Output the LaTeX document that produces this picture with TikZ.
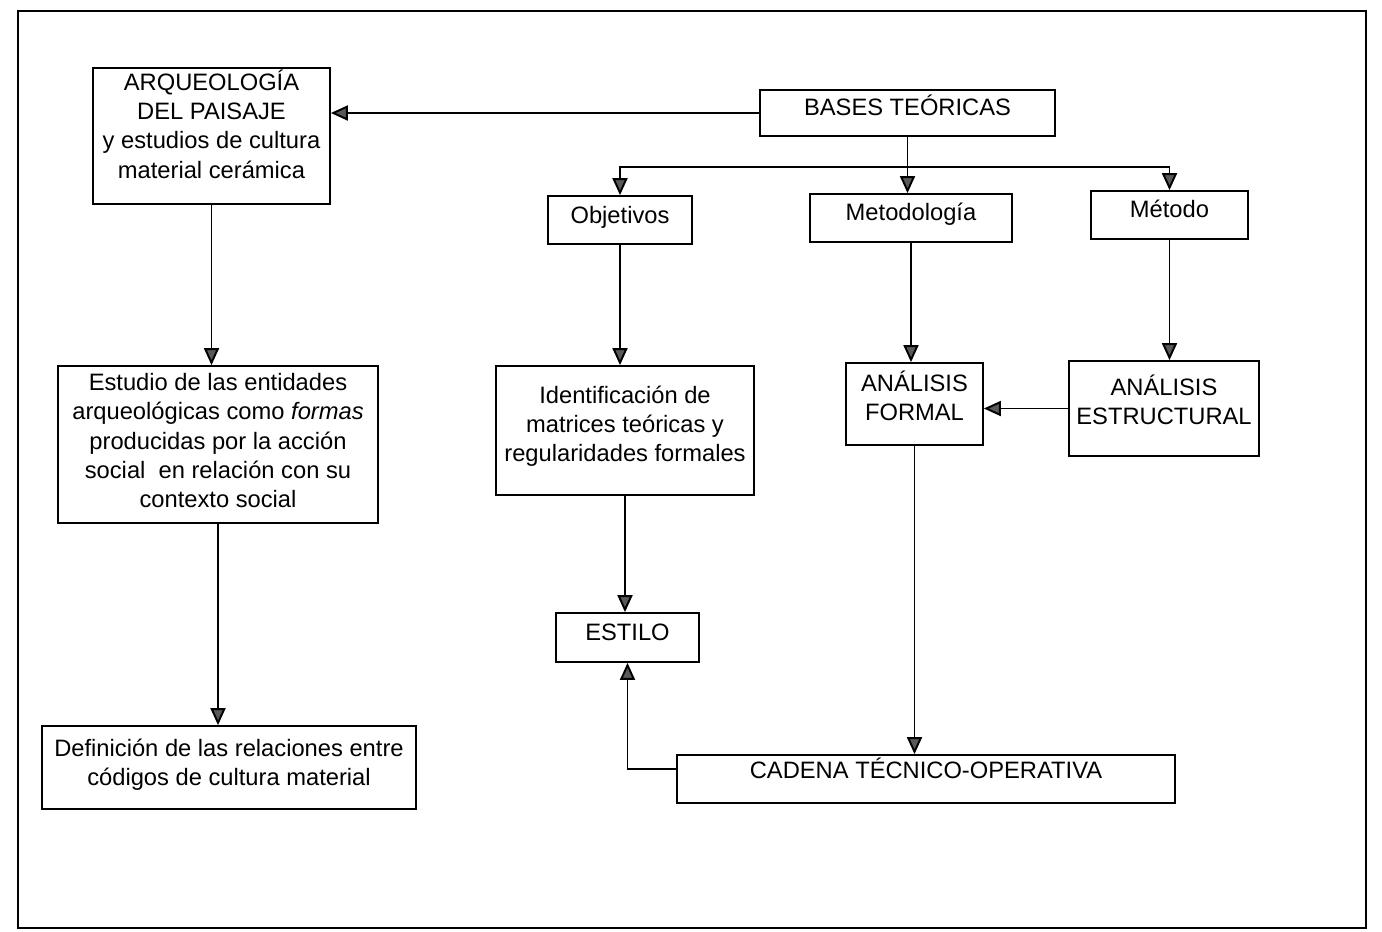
\documentclass[tikz,border=0pt]{standalone}
\usepackage{fontspec}
\setmainfont{Liberation Sans}
\usetikzlibrary{arrows.meta}
\begin{document}
\begin{tikzpicture}[x=0.02cm,y=-0.02cm,
        caja/.style={draw,line width=1pt,inner sep=0pt,align=center,
            font=\fontsize{13.5}{16.6}\selectfont},
        flecha/.style={line width=1.1pt,
            -{Triangle[width=0.3cm,length=0.34cm,fill=black!65]}}]
    \useasboundingbox (0,0) rectangle (1382,931);
    \draw[line width=1pt] (18,11) rectangle (1366,928);
    % columna izquierda
    \node[caja,minimum width=237*0.02cm,minimum height=136*0.02cm,text depth=0.48cm] (arq) at (211.5,136)
        {ARQUEOLOG\'IA\\DEL PAISAJE\\y estudios de cultura\\material cer\'amica};
    \node[caja,minimum width=320*0.02cm,minimum height=157*0.02cm,text depth=0.16cm] (estudio) at (218,444.5)
        {Estudio de las entidades\\arqueol\'ogicas como \textit{formas}\\producidas por la acci\'on\\social\ \ en relaci\'on con su\\contexto social};
    \node[caja,minimum width=374*0.02cm,minimum height=83*0.02cm,text depth=0.22cm] (definicion) at (229,767.5)
        {Definici\'on de las relaciones entre\\c\'odigos de cultura material};
    % bases y ramas
    \node[caja,minimum width=295*0.02cm,minimum height=46*0.02cm,text depth=0.32cm] (bases) at (907.5,113)
        {BASES TE\'ORICAS};
    \node[caja,minimum width=144*0.02cm,minimum height=48*0.02cm,text depth=0.22cm] (obj) at (620,220)
        {Objetivos};
    \node[caja,minimum width=202*0.02cm,minimum height=48*0.02cm,text depth=0.26cm] (metodologia) at (911,218)
        {Metodolog\'ia};
    \node[caja,minimum width=157*0.02cm,minimum height=48*0.02cm,text depth=0.24cm] (metodo) at (1169.5,215)
        {M\'etodo};
    \node[caja,minimum width=258*0.02cm,minimum height=129*0.02cm,text depth=0.26cm] (ident) at (625,430.5)
        {Identificaci\'on de\\matrices te\'oricas y\\regularidades formales};
    \node[caja,minimum width=137*0.02cm,minimum height=82*0.02cm,text depth=0.32cm] (formal) at (914.5,404)
        {AN\'ALISIS\\FORMAL};
    \node[caja,minimum width=190*0.02cm,minimum height=95*0.02cm,text depth=0.36cm] (estruct) at (1164,408.5)
        {AN\'ALISIS\\ESTRUCTURAL};
    \node[caja,minimum width=143*0.02cm,minimum height=49*0.02cm,text depth=0.2cm] (estilo) at (627.5,637.5)
        {ESTILO};
    \node[caja,minimum width=498*0.02cm,minimum height=48*0.02cm,text depth=0.44cm] (cadena) at (926,779)
        {CADENA T\'ECNICO-OPERATIVA};
    \coordinate (barra) at (0,167);
    % conexiones
    \draw[flecha] (bases.west) -- (arq.east |- bases.west);
    \draw[flecha] (bases.south) -- (bases.south |- metodologia.north);
    \draw[flecha] (bases.south |- barra) -| (obj.north);
    \draw[flecha] (bases.south |- barra) -| (metodo.north);
    \draw[flecha] (arq.south) -- (arq.south |- estudio.north);
    \draw[flecha] (estudio.south) -- (estudio.south |- definicion.north);
    \draw[flecha] (obj.south) -- (obj.south |- ident.north);
    \draw[flecha] (ident.south) -- (ident.south |- estilo.north);
    \draw[flecha] (metodologia.south) -- (metodologia.south |- formal.north);
    \draw[flecha] (metodo.south) -- (metodo.south |- estruct.north);
    \draw[flecha] (estruct.west) -- (formal.east |- estruct.west);
    \draw[flecha] (formal.south) -- (formal.south |- cadena.north);
    \draw[flecha] ([yshift=0.2cm]cadena.west) -| (estilo.south);
\end{tikzpicture}
\end{document}
